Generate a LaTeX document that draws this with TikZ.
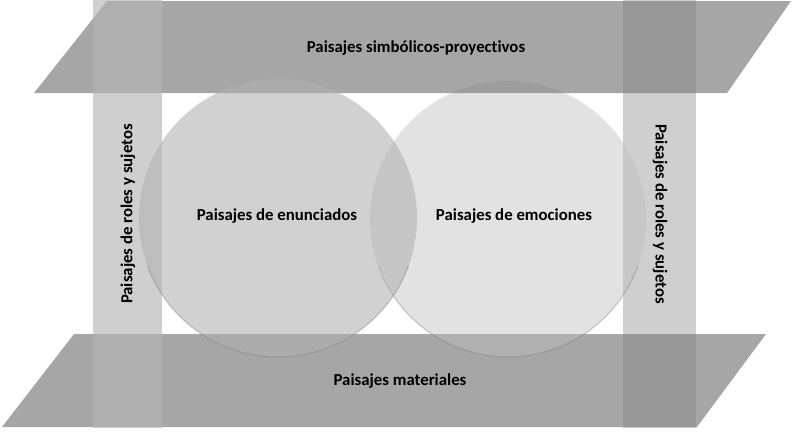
\documentclass[tikz,border=0pt]{standalone}
\usepackage{fontspec}
\setmainfont{Carlito}[Ligatures=NoCommon]
\begin{document}
\begin{tikzpicture}[x=1pt,y=-1pt,
  lbl/.style={font=\bfseries\fontsize{16.8}{19}\selectfont, text=black, inner sep=0pt},
  rbarstyle/.style={fill={rgb,255:red,207;green,207;blue,207}},
  rcircstyle/.style={fill={rgb,255:red,190;green,190;blue,190}, fill opacity=0.43},
  parastyle/.style={fill={rgb,255:red,130;green,130;blue,130}, fill opacity=0.71},
  lbarstyle/.style={fill={rgb,255:red,181;green,181;blue,181}, fill opacity=0.64},
  lcircstyle/.style={fill={rgb,255:red,177;green,177;blue,177}, fill opacity=0.58},
  rimstyle/.style={draw={rgb,255:red,120;green,120;blue,120}, draw opacity=0.35, line width=1.2pt}]
\useasboundingbox (0,0) rectangle (800,431);
\fill[white] (0,0) rectangle (800,431);
% right vertical bar (beneath)
\fill[rbarstyle] (623,0) rectangle (696,428);
% bottom parallelogram
\fill[parastyle] (74,334) -- (766,334) -- (697,427) -- (2,427) -- cycle;
% right circle
\fill[rcircstyle] (508,219) circle[radius=138];
\draw[rimstyle] (508,219) ++(20:138) arc[start angle=20, end angle=160, radius=138];
% top parallelogram
\fill[parastyle] (107,1) -- (791,1) -- (727,93) -- (34,93) -- cycle;
% left vertical bar
\fill[lbarstyle] (93,0) rectangle (162,428);
% left circle
\fill[lcircstyle] (278,218) circle[radius=139];
\draw[rimstyle] (278,218) ++(20:139) arc[start angle=20, end angle=160, radius=139];
% labels
\node[lbl] (top) at (416,48) {Paisajes simbólicos-proyectivos};
\node[lbl] (bottom) at (400,381) {Paisajes materiales};
\node[lbl] (enun) at (277,216) {Paisajes de enunciados};
\node[lbl] (emoc) at (514,216) {Paisajes de emociones};
\node[lbl, rotate=90] (left) at (128,214) {Paisajes de roles y sujetos};
\node[lbl, rotate=-90] (right) at (660,214) {Paisajes de roles y sujetos};
\end{tikzpicture}
\end{document}
